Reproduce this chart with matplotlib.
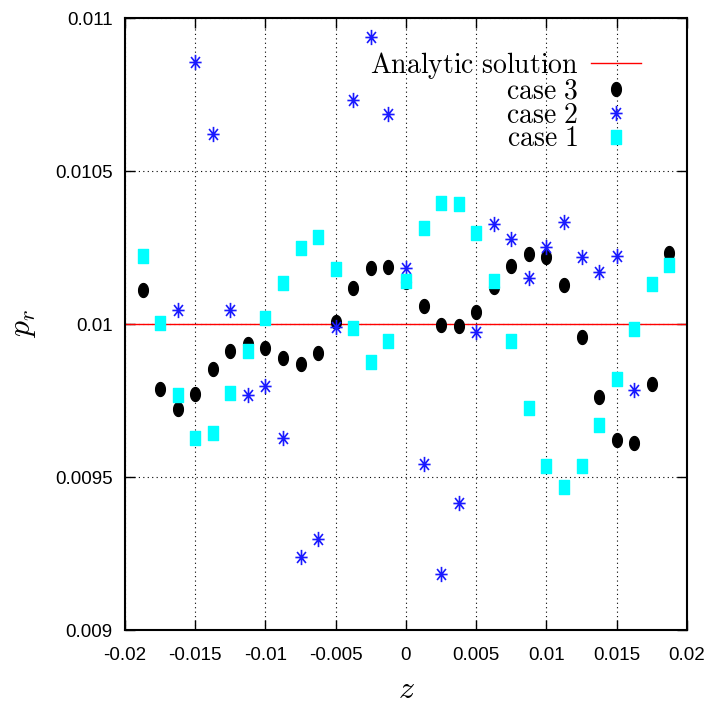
import numpy as np
import matplotlib
matplotlib.use("Agg")
import matplotlib.pyplot as plt
from matplotlib.path import Path
from matplotlib.patches import Rectangle

# ── Data ───────────────────────────────────────────────────────────────────
z_all = [-0.01875, -0.0175, -0.01625, -0.015, -0.01375, -0.0125, -0.01125,
         -0.01, -0.00875, -0.0075, -0.00625, -0.005, -0.00375, -0.0025,
         -0.00125, 0.0, 0.00125, 0.0025, 0.00375, 0.005, 0.00625, 0.0075,
         0.00875, 0.01, 0.01125, 0.0125, 0.01375, 0.015, 0.01625, 0.0175,
         0.01875]

case3 = [0.010111, 0.009788, 0.009722, 0.009771, 0.009853, 0.009912,
         0.009935, 0.009922, 0.009889, 0.009869, 0.009905, 0.010007,
         0.010118, 0.010183, 0.010186, 0.010137, 0.010059, 0.009997,
         0.009993, 0.010039, 0.010121, 0.010190, 0.010229, 0.010219,
         0.010127, 0.009958, 0.009761, 0.009621, 0.009611, 0.009804,
         0.010232]

case1 = [0.010222, 0.010003, 0.009768, 0.009627, 0.009644, 0.009775,
         0.009912, 0.010020, 0.010134, 0.010248, 0.010284, 0.010180,
         0.009987, 0.009876, 0.009944, 0.010141, 0.010314, 0.010395,
         0.010392, 0.010297, 0.010141, 0.009944, 0.009725, 0.009536,
         0.009467, 0.009536, 0.009670, 0.009820, 0.009984, 0.010131,
         0.010193]

# case 2 only has points inside the visible window
z_case2 = [-0.01625, -0.015, -0.01375, -0.0125, -0.01125, -0.01, -0.00875,
           -0.0075, -0.00625, -0.005, -0.00375, -0.0025, -0.00125, 0.0,
           0.00125, 0.0025, 0.00375, 0.005, 0.00625, 0.0075, 0.00875, 0.01,
           0.01125, 0.0125, 0.01375, 0.015, 0.01625]
case2 = [0.010046, 0.010856, 0.010621, 0.010046, 0.009768, 0.009797,
         0.009627, 0.009239, 0.009297, 0.009990, 0.010732, 0.010938,
         0.010686, 0.010183, 0.009542, 0.009183, 0.009415, 0.009974,
         0.010327, 0.010278, 0.010150, 0.010252, 0.010333, 0.010219,
         0.010170, 0.010222, 0.009784]

analytic = 0.01

x_ticks = [-0.02, -0.015, -0.01, -0.005, 0, 0.005, 0.01, 0.015, 0.02]
x_labels = ["-0.02", "-0.015", "-0.01", "-0.005", "0", "0.005", "0.01",
            "0.015", "0.02"]
y_ticks = [0.009, 0.0095, 0.01, 0.0105, 0.011]
y_labels = ["0.009", "0.0095", "0.01", "0.0105", "0.011"]

# ── Style ──────────────────────────────────────────────────────────────────
plt.rcParams["font.family"] = ["Liberation Sans Narrow", "Liberation Sans",
                               "DejaVu Sans"]
plt.rcParams["mathtext.fontset"] = "cm"

# gnuplot-like point shapes (taller than wide)
t = np.linspace(0, 2 * np.pi, 40)
ellipse = Path(np.column_stack([0.7 * np.cos(t), np.sin(t)]), closed=True)
rect = Path([(-0.7, -1), (0.7, -1), (0.7, 1), (-0.7, 1), (-0.7, -1)],
            closed=True)
M, L = Path.MOVETO, Path.LINETO
star = Path([(0, -1), (0, 1), (-0.8, 0), (0.8, 0),
             (-0.58, -0.72), (0.58, 0.72), (-0.58, 0.72), (0.58, -0.72)],
            [M, L, M, L, M, L, M, L])

fig = plt.figure(figsize=(7.11, 7.06), dpi=100)
ax = fig.add_axes([0.1758, 0.1076, 0.7904, 0.8669])

ax.axhline(analytic, color="red", lw=1.0, zorder=2,
           label=r"$\mathrm{Analytic\ solution}$")
ax.plot(z_all, case3, ls="none", marker=ellipse, ms=10, color="black",
        zorder=3, label=r"$\mathrm{case\ 3}$")
ax.plot(z_case2, case2, ls="none", marker=star, ms=11, mew=1.2,
        color="#1a1aff", zorder=4, label=r"$\mathrm{case\ 2}$")
ax.plot(z_all, case1, ls="none", marker=rect, ms=10.5, color="cyan",
        zorder=5, label=r"$\mathrm{case\ 1}$")

ax.set_xlim(-0.02, 0.02)
ax.set_ylim(0.009, 0.011)
ax.set_xticks(x_ticks)
ax.set_xticklabels(x_labels)
ax.set_yticks(y_ticks)
ax.set_yticklabels(y_labels)
ax.tick_params(direction="in", length=7, width=1, top=True, right=True,
               labelsize=13.5)
ax.tick_params(axis="x", pad=12)
ax.tick_params(axis="y", pad=9)
ax.grid(True, color="black", ls=(0, (1, 3)), lw=0.8)
for s in ax.spines.values():
    s.set_linewidth(1.5)

# white key box hiding the grid behind the legend
ax.add_patch(Rectangle((0.525, 0.789), 0.41, 0.159, transform=ax.transAxes,
                       facecolor="white", edgecolor="none", zorder=1.5))

ax.set_xlabel(r"$z$", fontsize=23, labelpad=8)
ax.set_ylabel(r"$p_r$", fontsize=23, labelpad=12)

leg = ax.legend(loc="upper right", bbox_to_anchor=(0.948, 0.975),
                markerfirst=False, fontsize=20, labelspacing=-0.08,
                handlelength=1.8, handletextpad=0.45, borderpad=0.1,
                frameon=False)

fig.savefig("out.png", dpi=100)
